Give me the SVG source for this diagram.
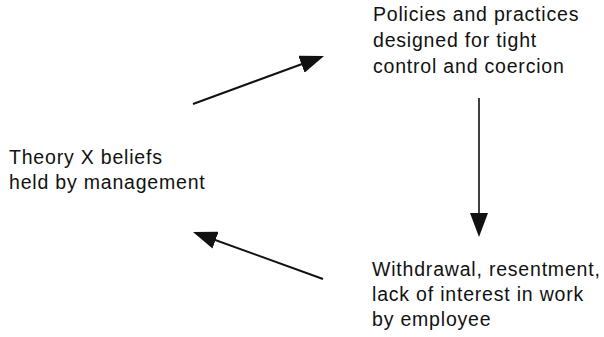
<svg xmlns="http://www.w3.org/2000/svg" width="604" height="337" viewBox="0 0 604 337">
  <style>
    text { font-family: "Liberation Sans", Arial, sans-serif; font-size: 19.5px; fill: #111; letter-spacing: 0.8px; }
    .conn { stroke: #111; stroke-width: 2; fill: none; marker-end: url(#head); }
    .thin { stroke-width: 1.6; }
  </style>
  <defs>
    <marker id="head" viewBox="0 0 24 18" refX="21" refY="9" markerWidth="24" markerHeight="18" markerUnits="userSpaceOnUse" orient="auto">
      <path d="M0,0 L24,9 L0,18 z" fill="#111"/>
    </marker>
  </defs>
  <rect width="604" height="337" fill="#fff"/>
  <g id="theory-x">
    <text x="9" y="164">Theory X beliefs</text>
    <text x="9" y="189">held by management</text>
  </g>
  <g id="policies">
    <text x="373" y="21">Policies and practices</text>
    <text x="373" y="47">designed for tight</text>
    <text x="373" y="73">control and coercion</text>
  </g>
  <g id="withdrawal">
    <text x="372" y="276">Withdrawal, resentment,</text>
    <text x="372" y="301">lack of interest in work</text>
    <text x="372" y="326">by employee</text>
  </g>
  <g id="connectors">
    <line class="conn" x1="193" y1="104" x2="321.2" y2="57"/>
    <line class="conn thin" x1="479" y1="98" x2="479" y2="234"/>
    <line class="conn" x1="323" y1="279" x2="195.8" y2="233"/>
  </g>
</svg>
